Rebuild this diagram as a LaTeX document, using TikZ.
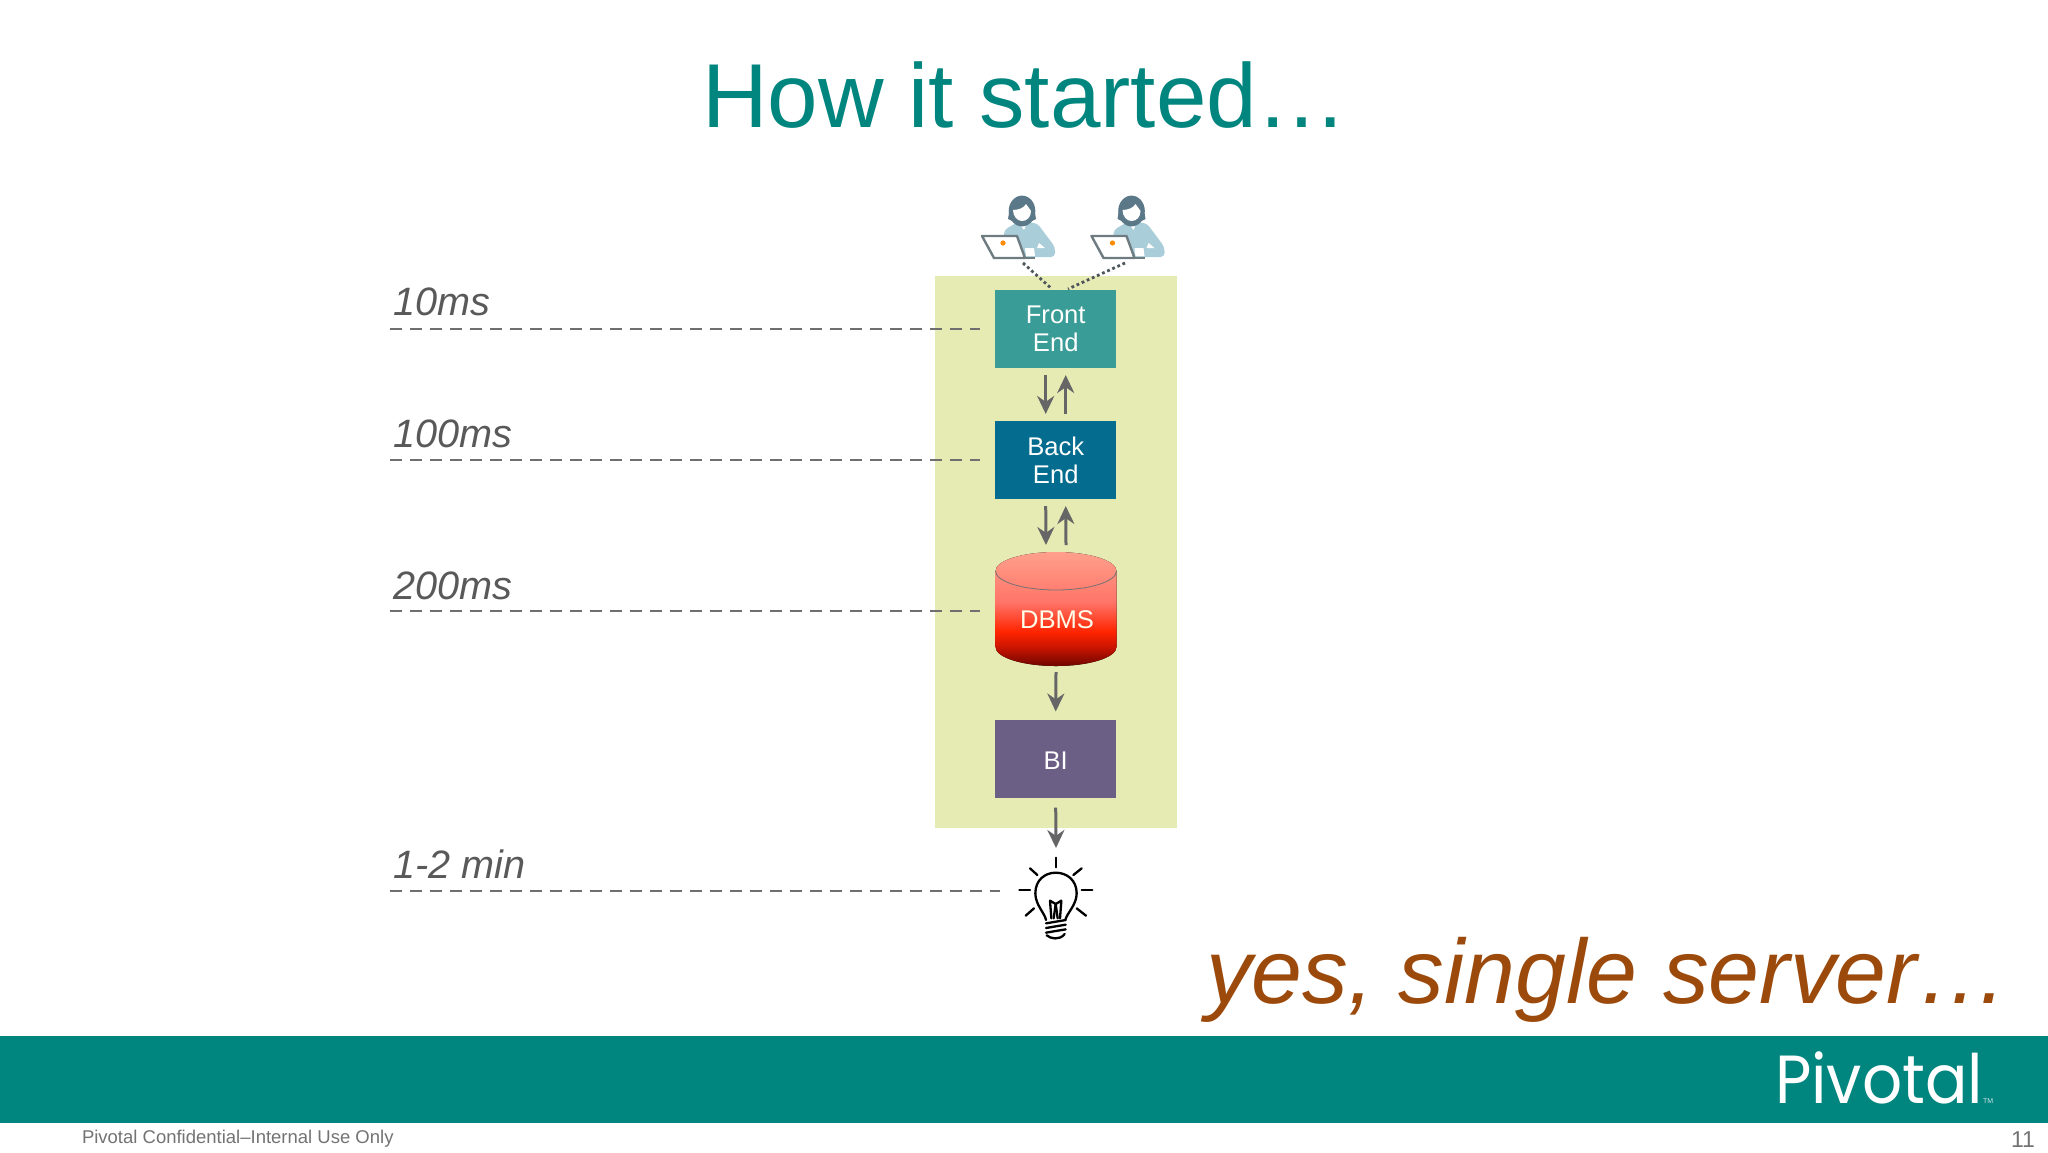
\documentclass[tikz,border=0pt]{standalone}
\usepackage{fontspec}
\setmainfont{Liberation Sans}
\newfontfamily\logofont{Poppins}
\usetikzlibrary{arrows.meta}
\definecolor{teal}{HTML}{00857F}
\definecolor{panel}{HTML}{E6EBB4}
\definecolor{fecol}{HTML}{3A9C96}
\definecolor{becol}{HTML}{046C8E}
\definecolor{bicol}{HTML}{6C5F86}
\definecolor{arrowgray}{HTML}{666666}
\definecolor{labelgray}{HTML}{595959}
\definecolor{dashgray}{HTML}{6F6F6F}
\definecolor{rust}{HTML}{9C4A0C}
\definecolor{hair}{HTML}{5B7888}
\definecolor{bodyblue}{HTML}{A9CDD9}
\definecolor{lapline}{HTML}{6E7C82}
\definecolor{dbA}{HTML}{FFA08C}
\definecolor{dbB}{HTML}{FF7468}
\definecolor{dbC}{HTML}{FF2400}
\definecolor{dbD}{HTML}{C81400}
\definecolor{dbE}{HTML}{6E0500}
\pgfdeclareverticalshading{dbshade}{100bp}{
 color(0bp)=(dbE); color(25bp)=(dbE); color(33bp)=(dbD); color(40bp)=(dbC);
 color(53bp)=(dbB); color(75bp)=(dbA); color(100bp)=(dbA)}
\tikzset{
 x=0.5pt,y=-0.5pt,
 every node/.style={inner sep=0pt,outer sep=0pt,font=\fontsize{12.8}{14}\selectfont},
 stack/.style={minimum width=60.5pt,minimum height=39pt,align=center,text=white},
 flow/.style={draw=arrowgray,line width=1.5pt,-{Stealth[length=9pt,width=8.5pt]}},
 timeline/.style={draw=dashgray,line width=1.45pt,dash pattern=on 6pt off 4pt},
 timelabel/.style={anchor=base west,text=labelgray,font=\fontsize{19.8}{22}\selectfont\itshape},
 userlink/.style={draw=lapline!70!black,line width=1.4pt,dash pattern=on 1.4pt off 1.4pt},
 bulbline/.style={draw=black,line width=1.15pt,line cap=round,line join=round},
 pics/user/.style={code={
  % body
  \fill[bodyblue,rounded corners=2pt] (-18,20) -- (-4,12) -- (15,13) -- (33,37) -- (33,47) -- (1,47) -- (-18,30) -- cycle;
  \fill[white] (-3,13) -- (5,13) -- (2,20) -- cycle;
  \fill[white] (17,33) -- (23,38) -- (15,38) -- cycle;
  % hair and face
  \fill[hair] (0,1) ellipse [x radius=13.3,y radius=15.4];
  \fill[hair] (-13,3) -- (-14,9) -- (-8,12) -- (8,12) -- (14,9) -- (13,3) -- cycle;
  \fill[white] (-9,0) .. controls (-4,0) and (2,-2) .. (4,-6) .. controls (6,-3) and (8,-1) .. (9,1) .. controls (9,7) and (5,11) .. (0,11) .. controls (-5,11) and (-9,6) .. (-9,0) -- cycle;
  % laptop
  \filldraw[fill=white,draw=lapline,line width=1.2pt,line join=round] (-40,26) -- (-5,26) -- (3,48) -- (-28,48) -- cycle;
  \fill[white] (3,38) -- (12,38) -- (13,46) -- (4,46) -- cycle;
  \draw[lapline,line width=1.2pt] (3,48) -- (13,48);
  \fill[orange!90!yellow] (-19,33) circle (2.6);
 }}
}
\begin{document}
\begin{tikzpicture}
\useasboundingbox (0,0) rectangle (2048,1152);
\fill[white] (0,0) rectangle (2048,1152);
% title
\node (title) [anchor=base west,text=teal,font=\fontsize{45.4}{50}\selectfont] at (702,127) {How it started…};
% panel
\fill[panel] (935,276) rectangle (1177,828);
% users
\pic at (1022,210) {user};
\pic at (1131.5,210) {user};
\coordinate (u1) at (1023,263);
\coordinate (u2) at (1125,263);
% stack
\node (fe) [stack,fill=fecol] at (1055.7,329) {\raisebox{-.6pt}{Front}\\\raisebox{-.6pt}{End}};
\node (be) [stack,fill=becol] at (1055.7,460) {Back\\End};
\fill[shading=dbshade] (995.5,571) -- (995.5,647) arc[start angle=180,end angle=0,x radius=60.5,y radius=19] -- (1116.5,571) arc[start angle=0,end angle=-180,x radius=60.5,y radius=19] -- cycle;
\draw[draw=black!55,line width=.4pt] (995.5,571) arc[start angle=180,end angle=0,x radius=60.5,y radius=19];
\node (db) [minimum width=60.5pt,minimum height=57pt] at (1056,609) {};
\node (dbt) [text=white!92!yellow] at (1057,620) {DBMS};
\node (bi) [stack,fill=bicol,text=white,text height=11.2pt,text depth=0pt] at (1055.7,758.5) {BI};
\coordinate (fetop1) at (1052,289);
\coordinate (fetop2) at (1068,289);
\draw[userlink] (u1) -- (fetop1);
\draw[userlink] (u2) -- (fetop2);
% arrows
\draw[flow] ([xshift=-5pt,yshift=-3.5pt]fe.south) -- ([xshift=-5pt,yshift=3.5pt]be.north);
\draw[flow] ([xshift=5pt,yshift=3.5pt]be.north) -- ([xshift=5pt,yshift=-3.5pt]fe.south);
\draw[flow] ([xshift=-5pt,yshift=-3.5pt]be.south) -- ([xshift=-5pt,yshift=3.5pt]db.north);
\draw[flow] ([xshift=5pt,yshift=3.5pt]db.north) -- ([xshift=5pt,yshift=-3.5pt]be.south);
\draw[flow] ([yshift=-3pt]db.south) -- ([yshift=4pt]bi.north);
\coordinate (bulbtop) at (1056,848);
\draw[flow] ([yshift=-5pt]bi.south) -- (bulbtop);
% bulb
\begin{scope}[shift={(960,530)},scale=1/3]
 \foreach \a/\b/\c/\d in {287/983/287/1012,210/1015/232/1035,365/1015/340/1035,178/1079/210/1079,365/1079/397/1079,197/1157/222/1135,378/1157/350/1135}
  \draw[bulbline] (\a,\b) -- (\c,\d);
 \draw[bulbline] (258,1170) .. controls (255,1150) and (226,1125) .. (226,1090) .. controls (226,1050) and (255,1028) .. (287,1028) .. controls (320,1028) and (350,1050) .. (350,1090) .. controls (350,1125) and (320,1150) .. (316,1170);
 \draw[bulbline] (274,1165) -- (270,1112) -- (287,1122) -- (304,1112) -- (300,1165);
 \draw[bulbline] (287,1122) -- (281,1165);
 \draw[bulbline] (287,1122) -- (293,1165);
 \draw[bulbline] (258,1180) -- (317,1170);
 \draw[bulbline] (258,1194) -- (317,1184);
 \draw[bulbline] (258,1208) -- (317,1198);
 \draw[bulbline] (260,1216) .. controls (272,1226) and (298,1232) .. (314,1212);
\end{scope}
% time lines
\coordinate (a1) at (390,329); \coordinate (b1) at (980,329);
\coordinate (a2) at (390,460); \coordinate (b2) at (980,460);
\coordinate (a3) at (390,611); \coordinate (b3) at (980,611);
\coordinate (a4) at (390,891); \coordinate (b4) at (1000,891);
\draw[timeline] (a1) -- (b1);
\draw[timeline] (a2) -- (b2);
\draw[timeline] (a3) -- (b3);
\draw[timeline] (a4) -- (b4);
\node (t1) [timelabel] at (393.5,315) {10ms};
\node (t2) [timelabel] at (393.5,447) {100ms};
\node (t3) [timelabel] at (393.5,599) {200ms};
\node (t4) [timelabel] at (393.5,878) {1-2 min};
% comment
\node (yes) [anchor=base west,text=rust,font=\fontsize{45.7}{50}\selectfont\itshape] at (1206,1003) {yes, single server…};
% band
\fill[teal] (0,1036) rectangle (2048,1123);
\node (logo) [anchor=base west,text=white,font=\fontsize{37}{40}\logofont\selectfont] at (1775,1103) {\scalebox{.85}[.92]{Pivotal}};
\node (tm) [anchor=base west,text=white!80!teal,font=\fontsize{3.5}{4}\selectfont] at (1983,1103) {TM};
% footer
\node (foot) [anchor=base west,text=black!55,font=\fontsize{9.25}{11}\selectfont] at (82,1143) {Pivotal Confidential–Internal Use Only};
\node (page) [anchor=base east,text=black!55,font=\fontsize{11.5}{13}\selectfont] at (2035,1147) {11};
\end{tikzpicture}
\end{document}
